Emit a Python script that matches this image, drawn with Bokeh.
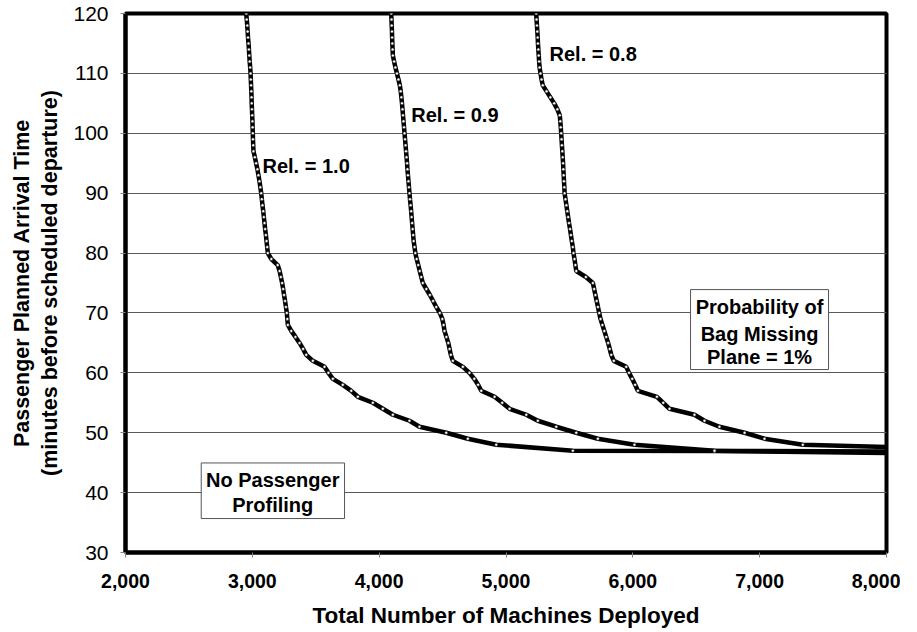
from bokeh.plotting import figure
from bokeh.models import Range1d, FixedTicker
from bokeh.core.properties import value
from bokeh.embed import file_html
from bokeh.resources import INLINE

# ---- data ----
minutes = [120, 119, 118, 117, 116, 115, 114, 113, 112, 111,
           110, 109, 108, 107, 106, 105, 104, 103, 102, 101,
           100, 99, 98, 97, 96, 95, 94, 93, 92, 91,
           90, 89, 88, 87, 86, 85, 84, 83, 82, 81,
           80, 79, 78, 77, 76, 75, 74, 73, 72, 71,
           70, 69, 68, 67, 66, 65, 64, 63, 62, 61,
           60, 59, 58, 57, 56, 55, 54, 53, 52, 51,
           50, 49, 48, 47]

rel10_machines = [2952, 2956, 2960, 2963, 2966, 2970, 2973, 2976, 2979, 2983,
                  2986, 2988, 2990, 2992, 2994, 2995, 2997, 2999, 3001, 3002,
                  3004, 3005, 3007, 3009, 3020, 3030, 3040, 3048, 3056, 3063,
                  3070, 3075, 3080, 3086, 3091, 3096, 3101, 3107, 3112, 3117,
                  3122, 3150, 3200, 3215, 3225, 3235, 3243, 3250, 3258, 3265,
                  3272, 3276, 3280, 3307, 3340, 3372, 3400, 3425, 3477, 3569,
                  3600, 3635, 3713, 3780, 3832, 3950, 4029, 4108, 4239, 4318,
                  4529, 4699, 4923, 5527]
rel10_tail_machines = [6644, 8000]
rel10_tail_minutes = [46.95, 46.6]

rel09_machines = [4095, 4097, 4099, 4101, 4102, 4104, 4106, 4108, 4118, 4128,
                  4140, 4152, 4163, 4170, 4175, 4180, 4184, 4188, 4192, 4196,
                  4200, 4204, 4208, 4212, 4216, 4220, 4223, 4227, 4231, 4235,
                  4239, 4243, 4248, 4252, 4256, 4260, 4264, 4268, 4272, 4279,
                  4285, 4296, 4308, 4320, 4332, 4344, 4372, 4400, 4425, 4450,
                  4478, 4498, 4508, 4515, 4530, 4545, 4555, 4565, 4581, 4660,
                  4712, 4750, 4780, 4805, 4910, 4970, 5028, 5160, 5251, 5396,
                  5554, 5724, 6013, 6644]
rel09_tail_machines = [8000]
rel09_tail_minutes = [46.85]

rel08_machines = [5238, 5241, 5244, 5247, 5250, 5252, 5255, 5258, 5261, 5265,
                  5272, 5280, 5290, 5320, 5350, 5380, 5405, 5424, 5428, 5432,
                  5435, 5438, 5441, 5444, 5447, 5450, 5452, 5455, 5457, 5460,
                  5462, 5469, 5476, 5483, 5490, 5497, 5505, 5512, 5519, 5527,
                  5532, 5540, 5547, 5554, 5630, 5685, 5695, 5705, 5715, 5725,
                  5735, 5745, 5760, 5775, 5790, 5805, 5818, 5830, 5850, 5948,
                  5970, 5995, 6018, 6040, 6190, 6240, 6289, 6486, 6565, 6683,
                  6881, 7038, 7340]
rel08_tail_machines = [8000]
rel08_tail_minutes = [47.6]

x_ticks = [2000, 3000, 4000, 5000, 6000, 7000, 8000]
x_tick_labels = ["2,000", "3,000", "4,000", "5,000", "6,000", "7,000", "8,000"]
y_ticks = [30, 40, 50, 60, 70, 80, 90, 100, 110, 120]

curve_labels = ["Rel. = 1.0", "Rel. = 0.9", "Rel. = 0.8"]
curve_label_x = [3080, 4253, 5343]
curve_label_y = [94.5, 103.05, 113.2]

prob_lines = ["Probability of", "Bag Missing", "Plane = 1%"]
prob_box = dict(left=6455, right=7543, top=73.9, bottom=60.55)
prob_x = 6999
prob_y = [70.95, 66.5, 62.6]

prof_lines = ["No Passenger", "Profiling"]
prof_box = dict(left=2597, right=3727, top=44.95, bottom=35.67)
prof_x = 3161
prof_y = [42.05, 37.9]

FONT = "Liberation Sans"

p = figure(width=900, height=630,
           x_range=Range1d(2000, 8000), y_range=Range1d(30, 120),
           output_backend="svg", toolbar_location=None,
           min_border_left=125, min_border_right=14,
           min_border_top=13, min_border_bottom=77,
           background_fill_color="white", border_fill_color="white")

p.outline_line_color = "black"
p.outline_line_width = 4

p.xgrid.visible = False
p.ygrid.ticker = FixedTicker(ticks=y_ticks)
p.ygrid.grid_line_color = "#5a5a5a"
p.ygrid.grid_line_width = 1

for ax in (p.xaxis, p.yaxis):
    ax.axis_line_color = "black"
    ax.axis_line_width = 4
    ax.major_tick_in = 0
    ax.major_tick_out = 5
    ax.major_tick_line_color = "#808080"
    ax.minor_tick_line_color = None
    ax.major_label_text_font = FONT
    ax.major_label_text_color = "black"
    ax.axis_label_text_font = FONT
    ax.axis_label_text_font_style = "bold"
    ax.axis_label_text_color = "black"

p.xaxis.ticker = FixedTicker(ticks=x_ticks)
p.xaxis.major_label_overrides = {t: l for t, l in zip(x_ticks, x_tick_labels)}
p.xaxis.major_label_text_font_style = "bold"
p.xaxis.major_label_text_font_size = "19.5px"
p.xaxis.major_label_standoff = 16
p.xaxis.axis_label = "Total Number of Machines Deployed"
p.xaxis.axis_label_text_font_size = "22.5px"
p.xaxis.axis_label_standoff = 12

p.yaxis.ticker = FixedTicker(ticks=y_ticks)
p.yaxis.major_label_text_font_size = "21px"
p.yaxis.major_label_standoff = 12
p.yaxis.axis_label = "Passenger Planned Arrival Time\n(minutes before scheduled departure)"
p.yaxis.axis_label_text_font_size = "21.5px"
p.yaxis.axis_label_standoff = 8

# boxes for the annotations (glyph level so they hide gridlines)
p.quad(left=[prob_box["left"], prof_box["left"]],
       right=[prob_box["right"], prof_box["right"]],
       top=[prob_box["top"], prof_box["top"]],
       bottom=[prob_box["bottom"], prof_box["bottom"]],
       fill_color="white", line_color="#555555", line_width=1)

series = [
    (rel10_machines + rel10_tail_machines, minutes + rel10_tail_minutes),
    (rel09_machines + rel09_tail_machines, minutes + rel09_tail_minutes),
    (rel08_machines + rel08_tail_machines, minutes[:len(rel08_machines)] + rel08_tail_minutes),
]
for xs, ys in series:
    p.line(xs, ys, line_color="black", line_width=4.5)
for xs, ys in series:
    p.scatter(xs[:-1], ys[:-1], size=3, marker="circle",
              fill_color="white", line_color="#222222", line_width=0.6)

p.text(x=curve_label_x, y=curve_label_y, text=curve_labels,
       text_font=value(FONT), text_font_style="bold", text_font_size="20px",
       text_align="left", text_baseline="middle", text_color="black")
p.text(x=[prob_x] * len(prob_lines), y=prob_y, text=prob_lines,
       text_font=value(FONT), text_font_style="bold", text_font_size="20px",
       text_align="center", text_baseline="middle", text_color="black")
p.text(x=[prof_x] * len(prof_lines), y=prof_y, text=prof_lines,
       text_font=value(FONT), text_font_style="bold", text_font_size="20px",
       text_align="center", text_baseline="middle", text_color="black")

open("out.html", "w").write(file_html(p, INLINE))
